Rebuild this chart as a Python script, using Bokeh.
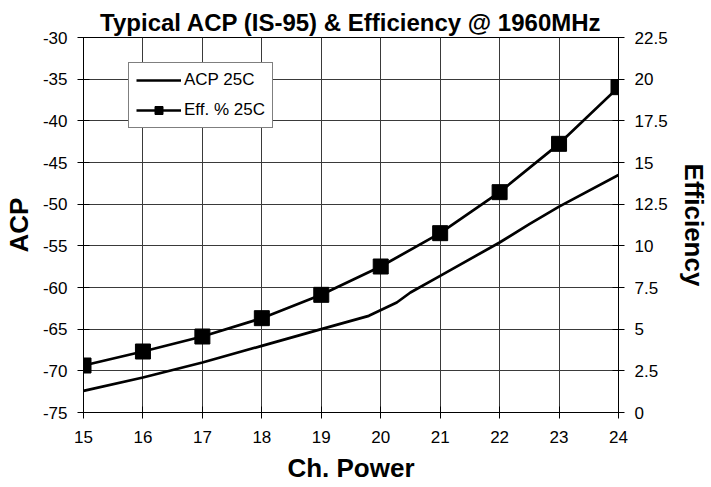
from bokeh.plotting import figure
from bokeh.models import Range1d, LinearAxis, FixedTicker, Legend, LegendItem
from bokeh.embed import file_html
from bokeh.resources import INLINE

# ---- data ----
acp_power = [15, 16, 17, 18, 19, 19.8, 20.27, 20.5, 21, 22, 22.5, 23, 24]
acp_25c = [-72.4, -70.8, -69.0, -67.0, -65.0, -63.4, -61.8, -60.6, -58.6, -54.6, -52.4, -50.3, -46.5]

eff_power = [15, 16, 17, 18, 19, 20, 21, 22, 23, 24]
eff_25c = [2.82, 3.66, 4.56, 5.66, 7.06, 8.76, 10.76, 13.22, 16.12, 19.52]

x_ticks = [15, 16, 17, 18, 19, 20, 21, 22, 23, 24]
acp_ticks = [-75, -70, -65, -60, -55, -50, -45, -40, -35, -30]
eff_ticks = [0, 2.5, 5, 7.5, 10, 12.5, 15, 17.5, 20, 22.5]

FONT = "Liberation Sans"

p = figure(width=711, height=487, output_backend="svg", toolbar_location=None,
           x_range=Range1d(15, 24), y_range=Range1d(-75, -30),
           min_border_left=82, min_border_right=89, min_border_top=37, min_border_bottom=75,
           title="Typical ACP (IS-95) & Efficiency @ 1960MHz")
p.extra_y_ranges = {"eff": Range1d(0, 22.5)}

p.title.align = "center"
p.title.text_font = FONT
p.title.text_font_size = "24px"
p.title.text_font_style = "bold"
p.title.text_color = "black"
p.title.offset = 0
p.title.standoff = 3

p.outline_line_color = "black"
p.outline_line_width = 1
p.background_fill_color = "white"
p.border_fill_color = "white"

# axes
def style_axis(ax):
    ax.axis_line_color = "black"
    ax.major_tick_line_color = "black"
    ax.major_tick_in = 6
    ax.major_tick_out = 6
    ax.minor_tick_line_color = None
    ax.major_label_text_font = FONT
    ax.major_label_text_font_size = "17px"
    ax.major_label_text_color = "black"
    ax.major_label_standoff = 10
    ax.axis_label_text_font = FONT
    ax.axis_label_text_font_size = "26px"
    ax.axis_label_text_font_style = "bold"
    ax.axis_label_text_color = "black"

xa = p.xaxis[0]
xa.ticker = FixedTicker(ticks=x_ticks)
xa.major_label_overrides = {t: str(t) for t in x_ticks}
xa.axis_label = "Ch. Power"
style_axis(xa)
xa.major_label_standoff = 12
xa.axis_label_standoff = 7

ya = p.yaxis[0]
ya.ticker = FixedTicker(ticks=acp_ticks)
ya.major_label_overrides = {t: str(t) for t in acp_ticks}
ya.axis_label = "ACP"
style_axis(ya)
ya.axis_label_standoff = 6

ra = LinearAxis(y_range_name="eff", axis_label="Efficiency")
ra.ticker = FixedTicker(ticks=eff_ticks)
ra.major_label_overrides = {t: ("%g" % t) for t in eff_ticks}
style_axis(ra)
ra.axis_label_standoff = 8
p.add_layout(ra, "right")

# grid
p.xgrid.ticker = FixedTicker(ticks=x_ticks)
p.ygrid.ticker = FixedTicker(ticks=acp_ticks)
for g in (p.xgrid[0], p.ygrid[0]):
    g.grid_line_color = "#3a3a3a"
    g.grid_line_width = 1

# series
acp_r = p.line(acp_power, acp_25c, line_color="black", line_width=2.7)
eff_l = p.line(eff_power, eff_25c, line_color="black", line_width=2.7, y_range_name="eff")
eff_s = p.scatter(eff_power, eff_25c, marker="square", size=15, fill_color="black",
                  line_color="black", y_range_name="eff")

legend = Legend(items=[LegendItem(label="ACP 25C", renderers=[acp_r]),
                       LegendItem(label="Eff. % 25C", renderers=[eff_l, eff_s])],
                location=(45, 284))
legend.border_line_color = "black"
legend.border_line_width = 1
legend.background_fill_color = "white"
legend.background_fill_alpha = 1
legend.label_text_font = FONT
legend.label_text_font_size = "17px"
legend.label_text_color = "black"
legend.glyph_width = 45
legend.glyph_height = 20
legend.label_height = 20
legend.spacing = 10
legend.padding = 7
legend.margin = 0
legend.label_standoff = 3
p.add_layout(legend, "center")

open("out.html", "w").write(file_html(p, INLINE))
